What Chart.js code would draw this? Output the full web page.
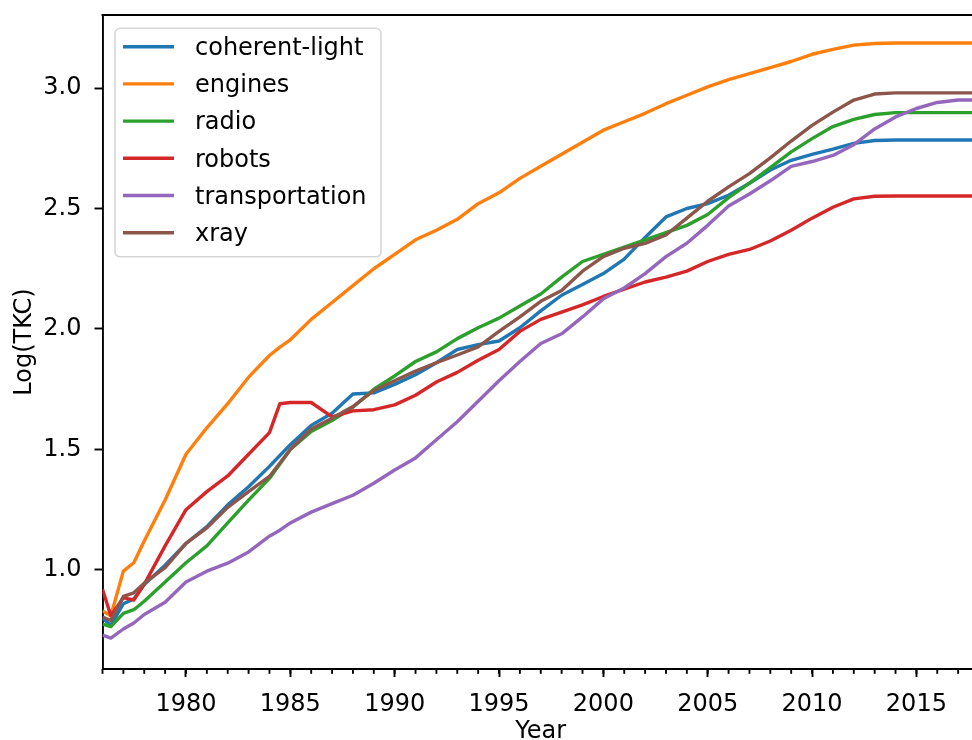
<!DOCTYPE html>
<html>
<head>
<meta charset="utf-8">
<script src="https://cdn.jsdelivr.net/npm/chart.js@4.4.1/dist/chart.umd.min.js"></script>
<style>
html,body{margin:0;padding:0;overflow:hidden;background:#fff;width:972px;height:740px}
#wrap{position:absolute;left:0;top:0;width:1000px;height:760px}
</style>
</head>
<body>
<div id="wrap"><canvas id="c" width="1000" height="760"></canvas></div>
<script>
// ---- data ----
const years = [1976, 1976.4, 1977, 1977.5, 1978, 1979, 1980, 1981, 1982, 1983, 1984, 1984.5,
  1985, 1986, 1987, 1988, 1989, 1990, 1991, 1992, 1993, 1994,
  1995, 1996, 1997, 1998, 1999, 2000, 2001, 2002, 2003, 2004,
  2005, 2006, 2007, 2008, 2009, 2010, 2011, 2012, 2013, 2014,
  2015, 2016, 2017, 2018];

const seriesNames = ["coherent-light", "engines", "radio", "robots", "transportation", "xray"];

const coherentLight = [0.80, 0.77, 0.86, 0.88, 0.94, 1.02, 1.11, 1.18, 1.27, 1.345, 1.43, 1.475,
  1.52, 1.60, 1.65, 1.73, 1.735, 1.77, 1.81, 1.86, 1.915, 1.935,
  1.95, 2.005, 2.075, 2.14, 2.185, 2.23, 2.29, 2.38, 2.465, 2.50,
  2.52, 2.555, 2.605, 2.66, 2.70, 2.725, 2.746, 2.77, 2.782, 2.784,
  2.784, 2.784, 2.784, 2.784];

const engines = [0.83, 0.81, 0.995, 1.03, 1.12, 1.29, 1.48, 1.59, 1.69, 1.80, 1.89, 1.925,
  1.955, 2.04, 2.11, 2.18, 2.25, 2.31, 2.37, 2.41, 2.455, 2.52,
  2.565, 2.625, 2.675, 2.725, 2.775, 2.825, 2.86, 2.895, 2.935, 2.97,
  3.005, 3.035, 3.06, 3.085, 3.11, 3.14, 3.16, 3.178, 3.185, 3.187,
  3.187, 3.187, 3.187, 3.187];

const radio = [0.775, 0.765, 0.82, 0.835, 0.87, 0.95, 1.03, 1.10, 1.195, 1.29, 1.38, 1.44,
  1.50, 1.575, 1.62, 1.675, 1.75, 1.805, 1.865, 1.905, 1.96, 2.005,
  2.045, 2.095, 2.145, 2.215, 2.28, 2.31, 2.34, 2.37, 2.40, 2.43,
  2.475, 2.545, 2.605, 2.67, 2.735, 2.79, 2.84, 2.87, 2.89, 2.898,
  2.898, 2.898, 2.898, 2.898];

const robots = [0.92, 0.81, 0.885, 0.875, 0.94, 1.10, 1.25, 1.325, 1.39, 1.48, 1.57, 1.69,
  1.695, 1.695, 1.635, 1.66, 1.665, 1.685, 1.725, 1.78, 1.82, 1.87,
  1.915, 1.99, 2.04, 2.07, 2.10, 2.135, 2.165, 2.195, 2.215, 2.24,
  2.28, 2.31, 2.33, 2.365, 2.41, 2.46, 2.505, 2.54, 2.551, 2.552,
  2.552, 2.552, 2.552, 2.552];

const transportation = [0.73, 0.717, 0.755, 0.78, 0.815, 0.866, 0.95, 0.995, 1.028, 1.075, 1.14, 1.165,
  1.195, 1.24, 1.275, 1.31, 1.36, 1.415, 1.465, 1.54, 1.615, 1.70,
  1.785, 1.865, 1.94, 1.98, 2.05, 2.125, 2.17, 2.23, 2.30, 2.356,
  2.43, 2.51, 2.56, 2.615, 2.675, 2.695, 2.72, 2.765, 2.83, 2.88,
  2.915, 2.94, 2.95, 2.95];

const xray = [0.805, 0.79, 0.89, 0.905, 0.945, 1.01, 1.11, 1.175, 1.26, 1.325, 1.388, 1.444,
  1.50, 1.585, 1.63, 1.678, 1.745, 1.785, 1.825, 1.86, 1.892, 1.926,
  1.99, 2.05, 2.115, 2.16, 2.24, 2.30, 2.335, 2.355, 2.39, 2.46,
  2.53, 2.59, 2.645, 2.71, 2.78, 2.845, 2.90, 2.95, 2.975, 2.98,
  2.98, 2.98, 2.98, 2.98];

const xTicks = [1980, 1985, 1990, 1995, 2000, 2005, 2010, 2015];
const xMinorTicks = [1976, 1977, 1978, 1979, 1980, 1981, 1982, 1983, 1984, 1985, 1986, 1987, 1988,
  1989, 1990, 1991, 1992, 1993, 1994, 1995, 1996, 1997, 1998, 1999, 2000, 2001, 2002, 2003,
  2004, 2005, 2006, 2007, 2008, 2009, 2010, 2011, 2012, 2013, 2014, 2015, 2016, 2017, 2018];
const yTicks = [1.0, 1.5, 2.0, 2.5, 3.0];
const xRange = [1976, 2018];
const yRange = [0.589, 3.303];

// ---- styling ----
const seriesValues = [coherentLight, engines, radio, robots, transportation, xray];
const colors = ["#1f77b4", "#ff7f0e", "#2ca02c", "#d62728", "#9467bd", "#8c564b"];
const FONT = '"DejaVu Sans", "Liberation Sans", sans-serif';

Chart.defaults.font.family = FONT;
Chart.defaults.font.size = 24;
Chart.defaults.color = "#000";

const datasets = seriesNames.map((name, i) => ({
  label: name,
  data: years.map((yr, k) => ({ x: yr, y: seriesValues[i][k] })),
  borderColor: colors[i],
  backgroundColor: colors[i],
  borderWidth: 3.4,
  pointRadius: 0,
  pointHoverRadius: 0,
  tension: 0,
  fill: false,
  order: seriesNames.length - i,
  borderCapStyle: "butt",
  borderJoinStyle: "round"
}));

const zeroPad = s => { s.paddingTop = 0; s.paddingBottom = 0; s.paddingLeft = 0; s.paddingRight = 0; };

const decorPlugin = {
  id: "decor",
  afterDraw(chart) {
    const ctx = chart.ctx;
    const a = chart.chartArea;
    const xs = chart.scales.x;
    ctx.save();
    // minor x ticks
    ctx.strokeStyle = "#000";
    ctx.lineWidth = 1.9;
    xMinorTicks.forEach(v => {
      const px = xs.getPixelForValue(v);
      if (px < a.left - 0.5 || px > a.right + 0.5) return;
      ctx.beginPath();
      ctx.moveTo(px, a.bottom);
      ctx.lineTo(px, a.bottom + 4.8);
      ctx.stroke();
    });
    // top and right spines
    ctx.beginPath();
    ctx.moveTo(a.left - 0.95, a.top);
    ctx.lineTo(a.right + 0.95, a.top);
    ctx.moveTo(a.right, a.top);
    ctx.lineTo(a.right, a.bottom);
    ctx.stroke();

    // legend (matplotlib style, upper left inside axes)
    const lx = a.left + 12.5, ly = a.top + 13.3, lw = 266, lh = 228.5, r = 5;
    ctx.beginPath();
    ctx.moveTo(lx + r, ly);
    ctx.lineTo(lx + lw - r, ly);
    ctx.arcTo(lx + lw, ly, lx + lw, ly + r, r);
    ctx.lineTo(lx + lw, ly + lh - r);
    ctx.arcTo(lx + lw, ly + lh, lx + lw - r, ly + lh, r);
    ctx.lineTo(lx + r, ly + lh);
    ctx.arcTo(lx, ly + lh, lx, ly + lh - r, r);
    ctx.lineTo(lx, ly + r);
    ctx.arcTo(lx, ly, lx + r, ly, r);
    ctx.closePath();
    ctx.fillStyle = "rgba(255,255,255,0.8)";
    ctx.fill();
    ctx.strokeStyle = "rgba(204,204,204,0.8)";
    ctx.lineWidth = 1.6;
    ctx.stroke();

    ctx.font = "24px " + FONT;
    ctx.textAlign = "left";
    ctx.textBaseline = "alphabetic";
    chart.data.datasets.forEach((ds, i) => {
      const rowY = ly + 18.4 + i * 37.2;
      ctx.strokeStyle = ds.borderColor;
      ctx.lineWidth = 3.4;
      ctx.beginPath();
      ctx.moveTo(lx + 8, rowY);
      ctx.lineTo(lx + 59, rowY);
      ctx.stroke();
      ctx.fillStyle = "#000";
      ctx.fillText(ds.label, lx + 80, rowY + 8.3);
    });
    ctx.restore();
  }
};

new Chart(document.getElementById("c"), {
  type: "line",
  data: { datasets },
  options: {
    responsive: false,
    animation: false,
    devicePixelRatio: 1,
    events: [],
    layout: { padding: { left: 0, right: 21, top: 15, bottom: 0 } },
    plugins: { legend: { display: false }, tooltip: { enabled: false } },
    scales: {
      x: {
        type: "linear",
        min: xRange[0],
        max: xRange[1],
        afterBuildTicks: s => { s.ticks = xTicks.map(v => ({ value: v })); },
        afterFit: s => { s.height = 91; zeroPad(s); },
        ticks: { autoSkip: false, maxRotation: 0, padding: 13, color: "#000",
                 callback: v => String(v), font: { size: 24 } },
        grid: { display: true, drawOnChartArea: false, drawTicks: true,
                tickLength: 8, tickWidth: 1.9, tickColor: "#000" },
        border: { display: true, color: "#000", width: 1.9 },
        title: { display: true, text: "Year", color: "#000", font: { size: 24 },
                 padding: { top: 0, bottom: 13.6 } }
      },
      y: {
        type: "linear",
        min: yRange[0],
        max: yRange[1],
        afterBuildTicks: s => { s.ticks = yTicks.map(v => ({ value: v })); },
        afterFit: s => { s.width = 102.5; zeroPad(s); },
        ticks: { padding: 13, color: "#000", callback: v => Number(v).toFixed(1),
                 font: { size: 24 } },
        grid: { display: true, drawOnChartArea: false, drawTicks: true,
                tickLength: 8, tickWidth: 1.9, tickColor: "#000" },
        border: { display: true, color: "#000", width: 1.9 },
        title: { display: true, text: "Log(TKC)", color: "#000", font: { size: 24 },
                 padding: { top: 10, bottom: 0 } }
      }
    }
  },
  plugins: [decorPlugin]
});
</script>
</body>
</html>
